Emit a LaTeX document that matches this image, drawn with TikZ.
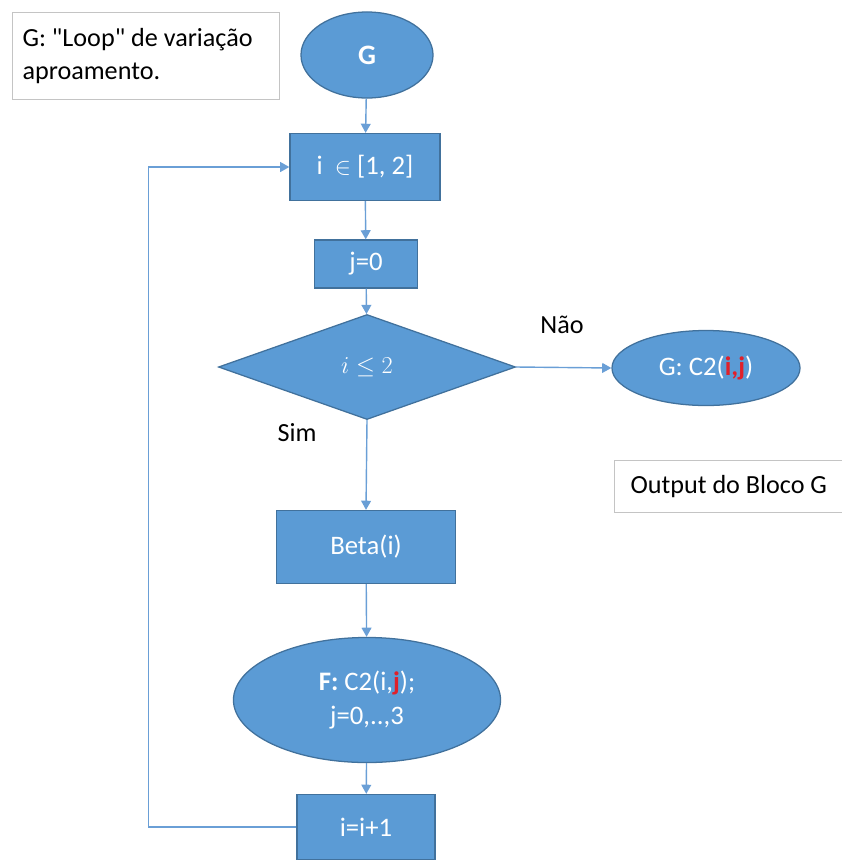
\documentclass[tikz,border=0pt]{standalone}
\usepackage{fontspec}
\setmainfont{Carlito}
\usepackage{amsmath}
\usetikzlibrary{shapes.geometric,arrows.meta}
\definecolor{blockblue}{HTML}{5B9BD5}
\definecolor{blockedge}{HTML}{41719C}
\definecolor{linkblue}{HTML}{6A9FD6}
\definecolor{notegray}{HTML}{C4C4C4}
\definecolor{idxred}{HTML}{E0202A}
\newcommand{\idx}[1]{\textcolor{idxred}{\textbf{#1}}}

\tikzset{
  block/.style={rectangle, fill=blockblue, draw=blockedge, line width=0.9pt,
    text=white, inner sep=0pt, font=\fontsize{19}{23}\selectfont},
  oval/.style={ellipse, fill=blockblue, draw=blockedge, line width=0.9pt,
    text=white, inner sep=0pt, align=center, font=\fontsize{19}{24}\selectfont},
  test/.style={diamond, fill=blockblue, draw=blockedge, line width=0.9pt,
    text=white, inner sep=0pt, font=\fontsize{19}{23}\selectfont},
  note/.style={rectangle, draw=notegray, line width=0.8pt, anchor=north west,
    align=left, inner xsep=0pt, font=\fontsize{18.6}{23.5}\selectfont},
  link/.style={draw=linkblue, line width=1pt,
    -{Triangle[width=7pt,length=6.5pt]}},
}

\begin{document}
\begin{tikzpicture}[x=0.025cm, y=-0.025cm]
\useasboundingbox (0,0) rectangle (842,863);

% Notes
\node[note, minimum width=6.675cm, minimum height=2.175cm, text width=6.175cm]
  (title) at (12,12) {\spaceskip=0pt\relax
  G: \textquotedbl Loop\textquotedbl{} de variação\\aproamento.};
\node[note, minimum width=5.8cm, minimum height=1.3cm, text width=5.0cm]
  (outnote) at (614,460) {\spaceskip=0pt\relax Output do Bloco G};

% Blocks
\node[oval, minimum width=3.3cm, minimum height=2.15cm,
  font=\fontsize{20}{24}\selectfont\bfseries] (start) at (367,55) {G};
\node[block, minimum width=3.75cm, minimum height=1.675cm] (range) at (365,167)
  {i \ $\in$ [1, 2]};
\node[block, minimum width=2.575cm, minimum height=1.2cm] (jzero) at (366,264) {j=0};
\node[test, minimum width=7.425cm, minimum height=2.625cm] (cond) at (367,367)
  {$i \leq 2$};
\node[oval, minimum width=4.7cm, minimum height=1.875cm] (result) at (706,368)
  {G: C2(\idx{i,j})};
\node[block, minimum width=4.475cm, minimum height=1.825cm] (beta) at (366,547) {Beta(i)};
\node[oval, minimum width=6.675cm, minimum height=3.125cm] (inner) at (367,700)
  {\textbf{F:} C2(i,\idx{j});\\j=0,..,3};
\node[block, minimum width=3.45cm, minimum height=1.625cm] (incr) at (366,827) {i=i+1};

% Branch labels
\node[font=\fontsize{18.6}{22}\selectfont] (no) at (562,325) {Não};
\node[font=\fontsize{18.6}{22}\selectfont] (yes) at (297,433) {Sim};

% Connectors
\draw[link] (start) -- (range);
\draw[link] (range) -- (jzero);
\draw[link] (jzero) -- (cond);
\draw[link] (cond.east) -- (result.west);
\draw[link] (cond.south) -- (beta.north);
\draw[link] (beta) -- (inner);
\draw[link] (inner) -- (incr);

% Back to the loop head
\draw[link] (incr.west) -- ++(-148,0) |- (range.west);

\end{tikzpicture}
\end{document}
